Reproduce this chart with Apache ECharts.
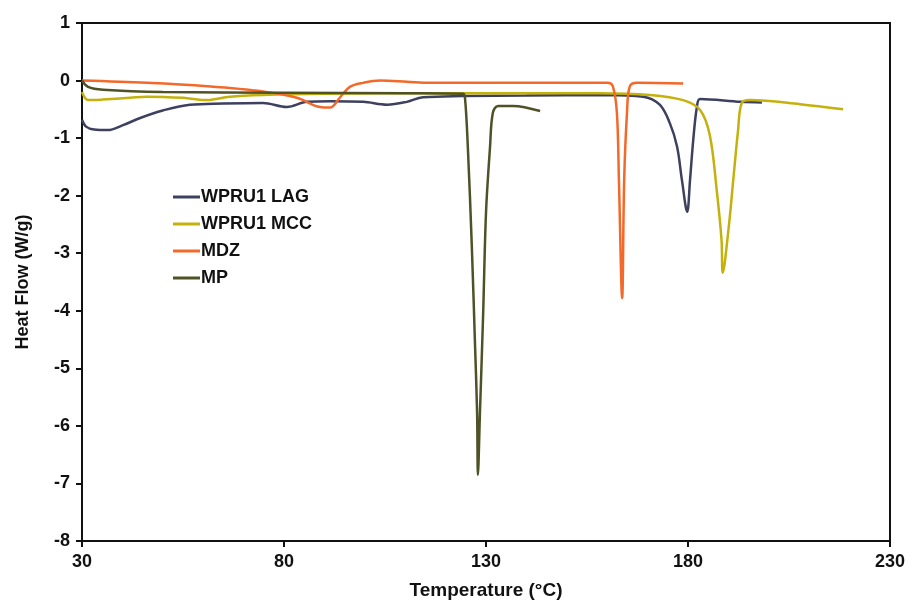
<!DOCTYPE html>
<html>
<head>
<meta charset="utf-8">
<script src="https://cdn.jsdelivr.net/npm/echarts@6/dist/echarts.min.js"></script>
<style>html,body{margin:0;padding:0;background:#fff}#c{width:914px;height:608px}</style>
</head>
<body>
<div id="c"></div>
<script>
const seriesNames = ['WPRU1 LAG', 'WPRU1 MCC', 'MDZ', 'MP'];
const xTicks = [30, 80, 130, 180, 230];

const lagT  = [30, 31, 33, 36.4, 40, 44.4, 50, 56.7, 65, 74.8, 80.7, 85.7, 91.4, 99.6, 105.5, 110.4, 114.4, 124.3, 140, 159.4, 168.9, 173, 175.5, 177.3, 178.5, 179.8, 180.5, 181.3, 182.2, 183, 193, 198.3];
const lagHF = [-0.68, -0.8, -0.85, -0.86, -0.78, -0.65, -0.52, -0.42, -0.4, -0.39, -0.46, -0.37, -0.36, -0.37, -0.42, -0.37, -0.29, -0.27, -0.26, -0.25, -0.28, -0.42, -0.74, -1.15, -1.73, -2.28, -1.73, -1.03, -0.46, -0.32, -0.37, -0.38];

const mccT  = [30, 31.5, 35, 41.9, 46, 55, 61, 66.6, 74.8, 90, 120, 158.2, 170.6, 178.8, 183, 185.4, 187.1, 188.3, 188.6, 190.0, 191.2, 192.4, 193.3, 195.3, 207.7, 218.4];
const mccHF = [-0.2, -0.34, -0.33, -0.3, -0.28, -0.3, -0.34, -0.28, -0.25, -0.23, -0.22, -0.22, -0.25, -0.34, -0.51, -0.95, -1.9, -2.77, -3.34, -2.6, -1.73, -0.86, -0.39, -0.34, -0.41, -0.5];

const mdzT  = [30, 46, 61, 74.8, 83.2, 88.9, 91.4, 93.9, 96.3, 99.6, 103.8, 110.4, 116, 140, 160, 161.4, 162.4, 162.9, 163.7, 164.2, 164.9, 165.6, 167.4, 178.8];
const mdzHF = [0, -0.04, -0.1, -0.19, -0.3, -0.46, -0.47, -0.29, -0.11, -0.04, 0, -0.02, -0.04, -0.04, -0.04, -0.1, -0.56, -1.73, -3.78, -1.73, -0.56, -0.1, -0.04, -0.05];

const mpT  = [30, 31.5, 35.2, 50, 80, 110, 124.3, 124.8, 125.5, 126.5, 127.3, 127.8, 128, 128.5, 129.3, 130, 131, 131.7, 133, 136.7, 143.4];
const mpHF = [0, -0.11, -0.16, -0.2, -0.21, -0.22, -0.23, -0.3, -1.15, -2.9, -4.63, -5.78, -6.85, -5.78, -4.04, -2.3, -1.15, -0.56, -0.44, -0.44, -0.53];

const colors = ['#3e4060', '#c4b10c', '#f2692a', '#4f5226'];
const zip = (a, b) => a.map((v, i) => [v, b[i]]);
const datasets = [zip(lagT, lagHF), zip(mccT, mccHF), zip(mdzT, mdzHF), zip(mpT, mpHF)];

const font = 'Arial, "Liberation Sans", sans-serif';
const chart = echarts.init(document.getElementById('c'), null, {renderer: 'canvas'});
chart.setOption({
  animation: false,
  backgroundColor: '#fff',
  grid: {left: 82, right: 24, top: 23, bottom: 67, show: true, borderColor: '#111', borderWidth: 2, backgroundColor: 'transparent'},
  legend: {
    orient: 'vertical', left: 168, top: 183,
    itemWidth: 27, itemHeight: 3, itemGap: 9, icon: 'rect',
    data: seriesNames,
    textStyle: {fontFamily: font, fontWeight: 'bold', fontSize: 18, color: '#111', padding: [0, 0, 0, -4]}
  },
  xAxis: {
    type: 'value', min: 30, max: 230, interval: 50,
    name: 'Temperature (°C)', nameLocation: 'middle', nameGap: 40,
    nameTextStyle: {fontFamily: font, fontWeight: 'bold', fontSize: 19, color: '#111'},
    axisLine: {onZero: false, lineStyle: {color: '#111', width: 2}},
    axisTick: {show: true, length: 6, lineStyle: {color: '#111', width: 2}, customValues: xTicks},
    axisLabel: {fontFamily: font, fontWeight: 'bold', fontSize: 18, color: '#111', margin: 12, customValues: xTicks},
    splitLine: {show: false}
  },
  yAxis: {
    type: 'value', min: -8, max: 1, interval: 1,
    name: 'Heat Flow (W/g)', nameLocation: 'middle', nameGap: 50,
    nameTextStyle: {fontFamily: font, fontWeight: 'bold', fontSize: 18, color: '#111'},
    axisLine: {onZero: false, lineStyle: {color: '#111', width: 2}},
    axisTick: {show: true, length: 6, lineStyle: {color: '#111', width: 2}},
    axisLabel: {fontFamily: font, fontWeight: 'bold', fontSize: 18, color: '#111', margin: 12},
    splitLine: {show: false}
  },
  series: seriesNames.map((n, i) => ({
    name: n, type: 'line', data: datasets[i],
    showSymbol: false, symbol: 'none', smooth: 0.35,
    lineStyle: {color: colors[i], width: 2.5}, itemStyle: {color: colors[i]},
    z: 2 + i
  }))
});
</script>
</body>
</html>
